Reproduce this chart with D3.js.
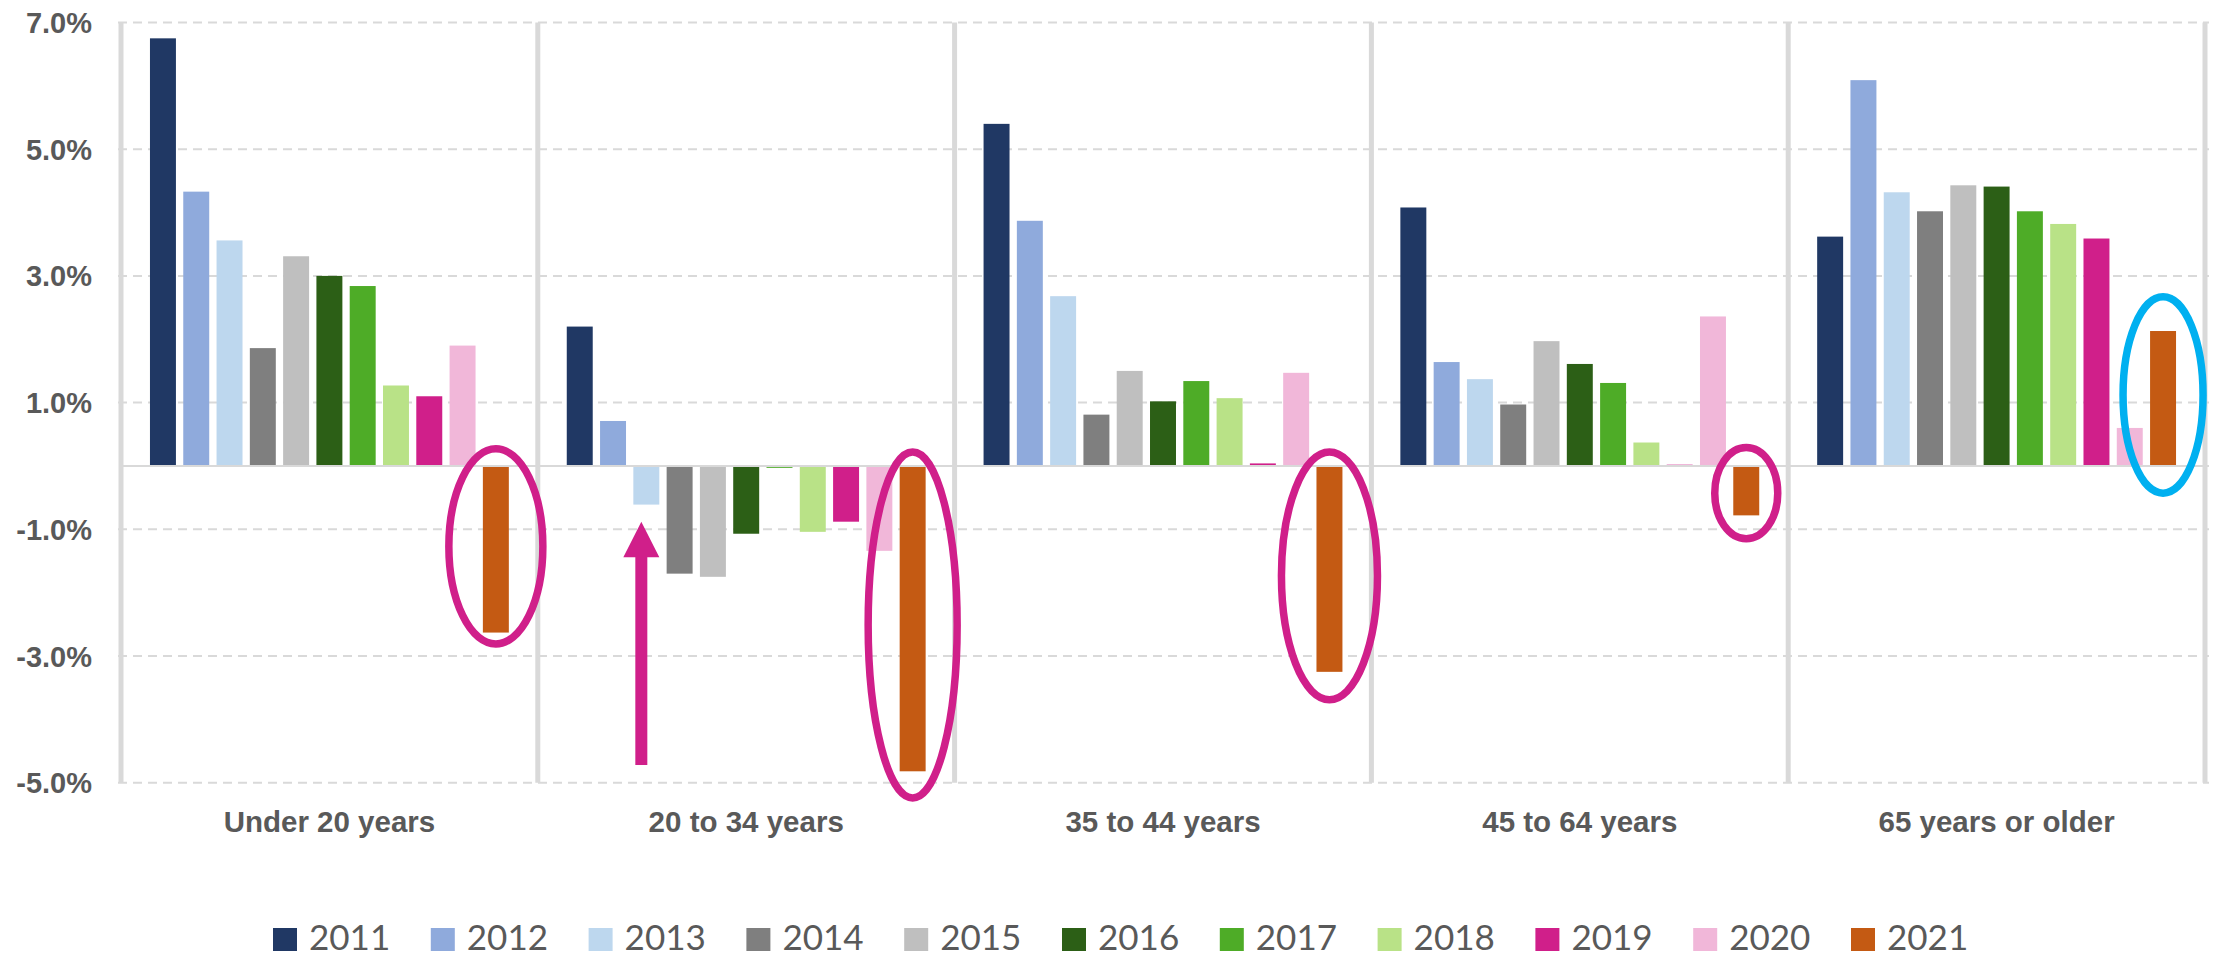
<!DOCTYPE html>
<html>
<head>
<meta charset="utf-8">
<script src="https://cdn.jsdelivr.net/npm/d3@7"></script>
<style>
  html, body { margin: 0; padding: 0; background: #ffffff; }
  svg { display: block; }
</style>
</head>
<body>
<svg id="chart" width="2216" height="959"></svg>
<script>
// ---------- DATA ----------
const groups = ["Under 20 years", "20 to 34 years", "35 to 44 years", "45 to 64 years", "65 years or older"];
const years = ["2011", "2012", "2013", "2014", "2015", "2016", "2017", "2018", "2019", "2020", "2021"];

// percent change by age group, one array per year
const v2011 = [6.75, 2.20, 5.40, 4.08, 3.62];
const v2012 = [4.33, 0.71, 3.87, 1.64, 6.09];
const v2013 = [3.56, -0.61, 2.68, 1.37, 4.32];
const v2014 = [1.86, -1.70, 0.81, 0.97, 4.02];
const v2015 = [3.31, -1.75, 1.50, 1.97, 4.43];
const v2016 = [3.00, -1.07, 1.02, 1.61, 4.41];
const v2017 = [2.84, -0.03, 1.34, 1.31, 4.02];
const v2018 = [1.27, -1.04, 1.07, 0.37, 3.82];
const v2019 = [1.10, -0.88, 0.04, 0.02, 3.59];
const v2020 = [1.90, -1.34, 1.47, 2.36, 0.60];
const v2021 = [-2.63, -4.82, -3.25, -0.78, 2.13];
const seriesValues = [v2011, v2012, v2013, v2014, v2015, v2016, v2017, v2018, v2019, v2020, v2021];

const yTicks = [7, 5, 3, 1, -1, -3, -5];
const yTickLabels = ["7.0%", "5.0%", "3.0%", "1.0%", "-1.0%", "-3.0%", "-5.0%"];

const colors = ["#203864", "#8FAADC", "#BDD7EE", "#7F7F7F", "#BFBFBF", "#2C5F16", "#4EAC27", "#B9E287", "#D01F8A", "#F1B7D9", "#C45A13"];

// annotation ellipses around the 2021 bars: group, value extent
const annoGroups = ["Under 20 years", "20 to 34 years", "35 to 44 years", "45 to 64 years", "65 years or older"];
const annoTop = [0.27, 0.22, 0.22, 0.29, 2.67];
const annoBottom = [-2.81, -5.24, -3.69, -1.15, -0.43];
const annoKind = ["neg", "neg", "neg", "neg", "pos"];

// arrow pointing at 2013 bar of 20-34 years (value extents)
const arrowGroup = "20 to 34 years";
const arrowYear = "2013";
const arrowTip = -0.88;
const arrowHeadBase = -1.44;
const arrowTail = -4.72;

// ---------- LAYOUT ----------
const svg = d3.select("#chart");
const plotLeft = 121, plotRight = 2205, plotTop = 22.5, plotBottom = 782.7;
const textColor = "#595959";
const gridColor = "#D9D9D9";
const magenta = "#D01F8A";
const cyan = "#00B0F0";

const y = d3.scaleLinear().domain([-5, 7]).range([plotBottom, plotTop]);
const x0 = d3.scaleBand().domain(groups).range([plotLeft, plotRight]).padding(0);
const x1 = d3.scaleBand().domain(years).range([0, x0.bandwidth()]).paddingInner(0.22).paddingOuter(0.87);

// gridlines
const gridG = svg.append("g");
gridG.selectAll("line").data(yTicks).join("line")
  .attr("x1", plotLeft - 3).attr("x2", plotRight + 4)
  .attr("y1", d => y(d)).attr("y2", d => y(d))
  .attr("stroke", gridColor).attr("stroke-width", 2)
  .attr("stroke-dasharray", "9,6");

// y axis labels
const yAxis = d3.axisLeft(y).tickValues(yTicks).tickSize(0).tickPadding(0)
  .tickFormat((d, i) => yTickLabels[i]);
const yAxisG = svg.append("g").attr("transform", `translate(92,0)`).call(yAxis);
yAxisG.select(".domain").remove();
yAxisG.selectAll("text")
  .attr("x", 0).attr("dy", null)
  .attr("dominant-baseline", "central")
  .attr("fill", textColor)
  .style("font-family", "'Liberation Sans', Arial, sans-serif")
  .style("font-weight", "bold")
  .style("font-size", "29px");

// bars
const barsG = svg.append("g");
groups.forEach((g, gi) => {
  const gG = barsG.append("g").attr("transform", `translate(${x0(g)},0)`);
  gG.selectAll("rect").data(years.map((yr, si) => ({ yr, si, v: seriesValues[si][gi] })))
    .join("rect")
    .attr("x", d => x1(d.yr))
    .attr("width", x1.bandwidth())
    .attr("y", d => y(Math.max(0, d.v)))
    .attr("height", d => Math.abs(y(d.v) - y(0)))
    .attr("fill", d => colors[d.si]);
});

// zero line
svg.append("line")
  .attr("x1", plotLeft).attr("x2", plotRight + 4)
  .attr("y1", y(0)).attr("y2", y(0))
  .attr("stroke", gridColor).attr("stroke-width", 2);

// vertical separators
const sepXs = groups.map(g => x0(g)).concat([plotRight]);
svg.append("g").selectAll("line").data(sepXs).join("line")
  .attr("x1", d => d).attr("x2", d => d)
  .attr("y1", plotTop).attr("y2", plotBottom)
  .attr("stroke", gridColor).attr("stroke-width", 5);

// category labels
const xAxis = d3.axisBottom(x0).tickSize(0).tickPadding(0);
const xAxisG = svg.append("g").attr("transform", `translate(0,832)`).call(xAxis);
xAxisG.select(".domain").remove();
xAxisG.selectAll("text")
  .attr("y", 0).attr("dy", null)
  .attr("fill", textColor)
  .style("font-family", "'Liberation Sans', Arial, sans-serif")
  .style("font-weight", "bold")
  .style("font-size", "29.5px");

// annotation ellipses
const annoRx = [47, 44.5, 48, 31.5, 40];
const annoG = svg.append("g");
annoGroups.forEach((g, i) => {
  const cx = x0(g) + x1("2021") + x1.bandwidth() / 2;
  const yt = y(annoTop[i]), yb = y(annoBottom[i]);
  annoG.append("ellipse")
    .attr("cx", cx)
    .attr("cy", (yt + yb) / 2)
    .attr("rx", annoRx[i])
    .attr("ry", (yb - yt) / 2)
    .attr("fill", "none")
    .attr("stroke", annoKind[i] === "neg" ? magenta : cyan)
    .attr("stroke-width", 7.5);
});

// arrow
{
  const ax = x0(arrowGroup) + x1(arrowYear) + x1.bandwidth() / 2 - 5;
  const tipY = y(arrowTip), baseY = y(arrowHeadBase), tailY = y(arrowTail);
  const shaftHalf = 6, headHalf = 18;
  const path = d3.path();
  path.moveTo(ax, tipY);
  path.lineTo(ax + headHalf, baseY);
  path.lineTo(ax + shaftHalf, baseY);
  path.lineTo(ax + shaftHalf, tailY);
  path.lineTo(ax - shaftHalf, tailY);
  path.lineTo(ax - shaftHalf, baseY);
  path.lineTo(ax - headHalf, baseY);
  path.closePath();
  svg.append("path").attr("d", path.toString()).attr("fill", magenta);
}

// legend
const legendX0 = 273, legendStep = 157.8, legendBaseline = 950;
const legendG = svg.append("g");
const items = legendG.selectAll("g").data(years).join("g")
  .attr("transform", (d, i) => `translate(${legendX0 + i * legendStep},0)`);
items.append("rect")
  .attr("x", 0).attr("y", 928).attr("width", 24).attr("height", 23)
  .attr("fill", (d, i) => colors[i]);
items.append("text")
  .attr("x", 36).attr("y", legendBaseline)
  .attr("fill", textColor)
  .style("font-family", "Lato, 'Open Sans', sans-serif")
  .style("font-size", "35px")
  .text(d => d);
</script>
</body>
</html>
